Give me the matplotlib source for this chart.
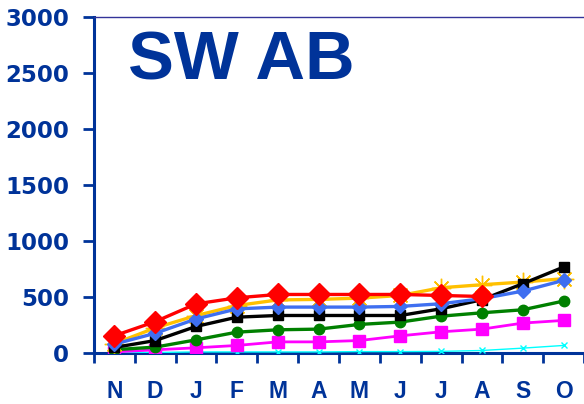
import matplotlib
matplotlib.use("Agg")
import matplotlib.pyplot as plt
from matplotlib.ticker import FixedLocator

months = ['N', 'D', 'J', 'F', 'M', 'A', 'M', 'J', 'J', 'A', 'S', 'O']

cyan_vals = [0, 0, 5, 5, 5, 5, 8, 8, 10, 18, 39, 63]
magenta_vals = [5, 24, 42, 63, 95, 95, 107, 149, 185, 209, 263, 287]
green_vals = [25, 48, 113, 182, 203, 209, 251, 272, 325, 355, 382, 460]
yellow_vals = [80, 220, 330, 420, 470, 475, 486, 510, 579, 606, 630, 660]
black_vals = [45, 107, 233, 316, 331, 331, 331, 331, 391, 472, 615, 764]
blue_vals = [75, 172, 300, 390, 406, 406, 406, 412, 436, 481, 549, 645]
red_vals = [150, 276, 435, 489, 519, 519, 519, 519, 510, 501]

navy = '#003399'

fig = plt.figure(figsize=(5.84, 4.04), dpi=100)
ax = fig.add_axes([94 / 584, 1 - 352.5 / 404, 1 - 94 / 584, (352.5 - 17) / 404])

x = list(range(len(months)))

ax.plot(x, cyan_vals, color='#00FFFF', lw=1, marker='x', ms=5, mew=1, zorder=2)
ax.plot(x, magenta_vals, color='#FF00FF', lw=2, marker='s', ms=8, zorder=3)
ax.plot(x, green_vals, color='#008000', lw=2.4, marker='o', ms=7.5, zorder=4)
ax.plot(x, yellow_vals, color='#FFC000', lw=2.4, marker=(8, 2, 0), ms=14, mew=1, zorder=5)
ax.plot(x, black_vals, color='black', lw=2.4, marker='s', ms=7.5, zorder=6)
ax.plot(x, blue_vals, color='#3F6FF0', lw=2.4, marker='D', ms=7, zorder=7)
ax.plot(x[:len(red_vals)], red_vals, color='#FF0000', lw=2.4, marker='D', ms=11, zorder=8)

ax.set_xlim(-0.5, len(months) - 0.5)
ax.set_ylim(0, 3000)
ax.set_yticks(range(0, 3001, 500))

ax.set_xticks(x)
ax.set_xticklabels(months)
ax.xaxis.set_minor_locator(FixedLocator([i - 0.5 for i in range(len(months) + 1)]))
ax.tick_params(axis='x', which='major', length=0, pad=20)
ax.tick_params(axis='x', which='minor', length=7, width=2, color=navy, direction='out')
ax.tick_params(axis='y', length=8, width=2, color=navy, direction='out', pad=10)

for lab in ax.get_xticklabels():
    lab.set_fontfamily('Liberation Sans')
    lab.set_fontweight('bold')
    lab.set_fontsize(16.5)
    lab.set_color(navy)
for lab in ax.get_yticklabels():
    lab.set_fontfamily('DejaVu Sans')
    lab.set_fontweight('bold')
    lab.set_fontsize(16.5)
    lab.set_color(navy)

ax.spines['right'].set_visible(False)
ax.spines['left'].set_color(navy)
ax.spines['left'].set_linewidth(2.2)
ax.spines['bottom'].set_color(navy)
ax.spines['bottom'].set_linewidth(2.2)
ax.spines['bottom'].set_zorder(1)
ax.spines['top'].set_color('#333399')
ax.spines['top'].set_linewidth(1)

ax.text(0.07, 0.866, 'SW AB', transform=ax.transAxes, fontsize=49.5,
        fontweight='bold', fontfamily='Liberation Sans', color=navy,
        ha='left', va='center')

fig.savefig('out.png', dpi=100)
